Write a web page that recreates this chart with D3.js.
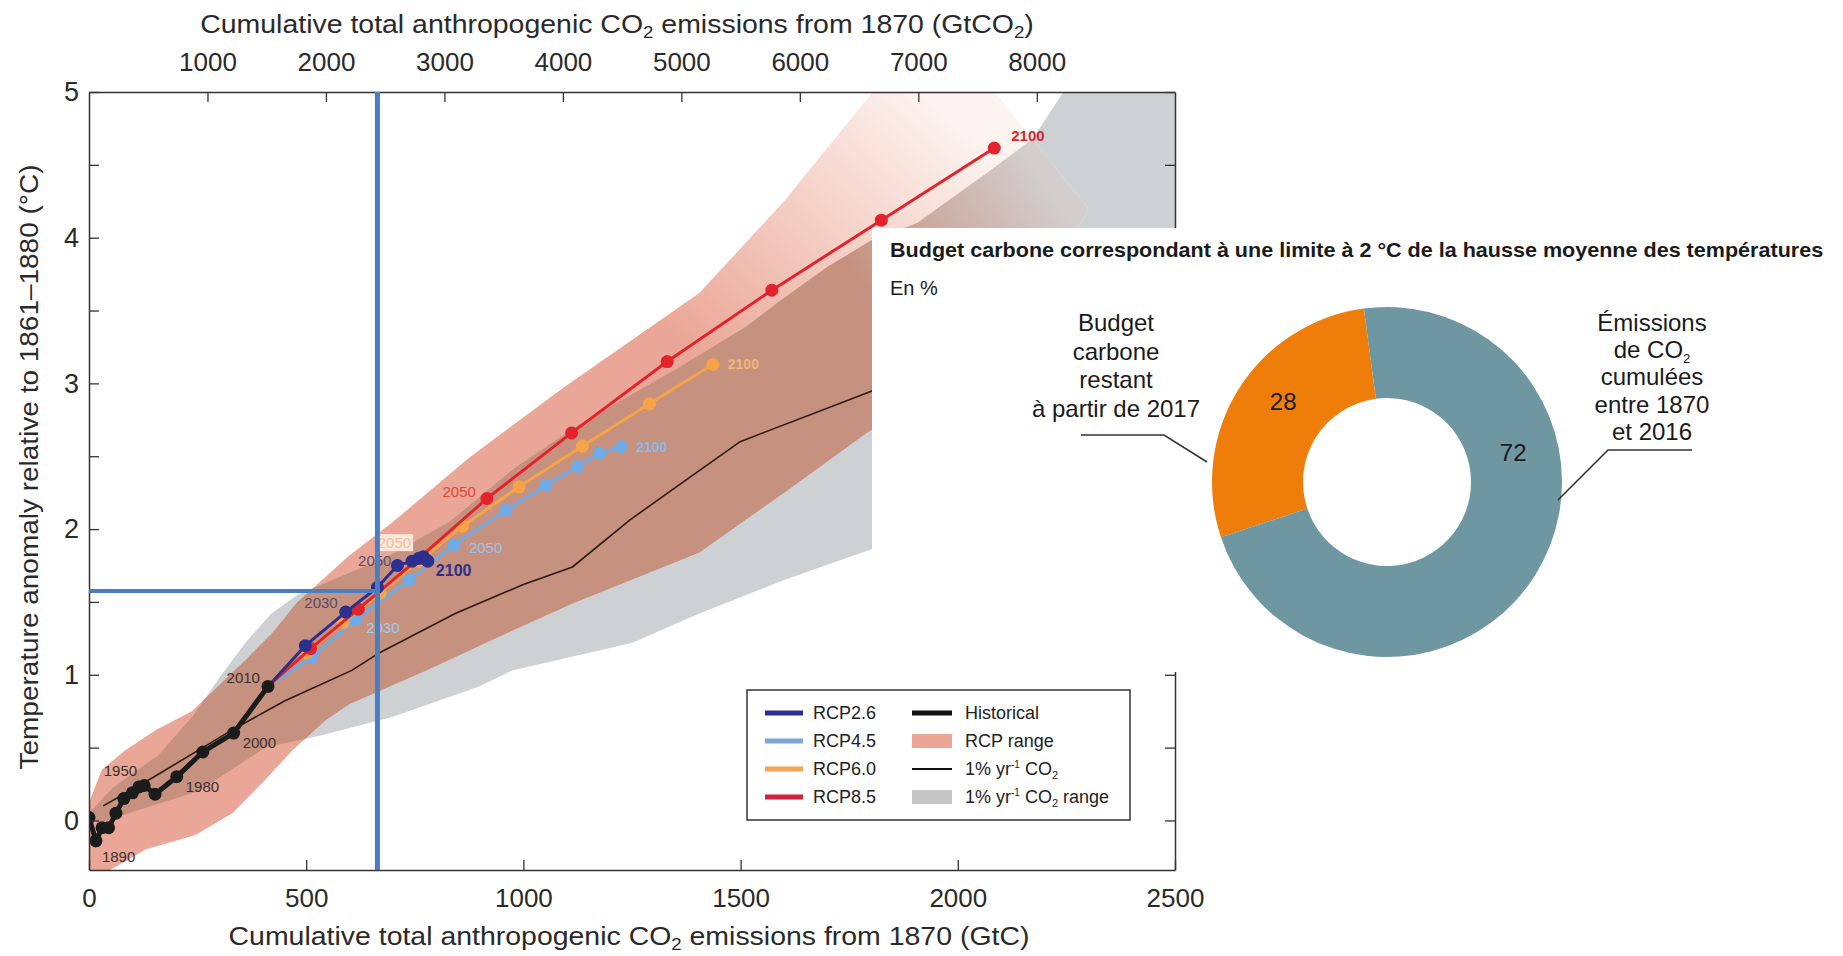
<!DOCTYPE html>
<html><head><meta charset="utf-8">
<script src="https://cdn.jsdelivr.net/npm/d3@7"></script>
<style>
html,body{margin:0;padding:0;background:#fff;}
svg{display:block;font-family:"Liberation Sans",Arial,Helvetica,sans-serif;}
</style></head><body>
<svg id="c" width="1843" height="956"></svg>
<script>
// ---------------- DATA ----------------
const xTicksGtC = [0, 500, 1000, 1500, 2000, 2500];
const xTicksGtCO2 = [1000, 2000, 3000, 4000, 5000, 6000, 7000, 8000];
const yTicksMajor = [0, 1, 2, 3, 4, 5];
const yTicksAll = [0, 0.5, 1, 1.5, 2, 2.5, 3, 3.5, 4, 4.5, 5];

// Historical (decadal means), cumulative GtC vs temperature anomaly
const histGtC  = [0, 16, 30, 45, 62, 80, 100, 115, 127, 152, 202, 262, 333, 412];
const histTemp = [0.02, -0.14, -0.05, -0.05, 0.05, 0.15, 0.19, 0.23, 0.24, 0.18, 0.30, 0.47, 0.60, 0.92];
const histYearLabels = [["1890", 1], ["1950", 8], ["1980", 10], ["2000", 12], ["2010", 13]];

// RCP scenarios 2010..2100 (decades)
const rcp26GtC  = [412, 498, 591, 664, 710, 744, 760, 770, 776, 780];
const rcp26Temp = [0.92, 1.20, 1.43, 1.60, 1.75, 1.78, 1.80, 1.81, 1.79, 1.78];
const rcp45GtC  = [412, 513, 615, 737, 840, 960, 1052, 1125, 1175, 1225];
const rcp45Temp = [0.92, 1.12, 1.38, 1.65, 1.89, 2.13, 2.30, 2.43, 2.52, 2.565];
const rcp60GtC  = [412, 500, 585, 670, 760, 860, 990, 1136, 1290, 1436];
const rcp60Temp = [0.92, 1.15, 1.36, 1.56, 1.78, 2.02, 2.29, 2.57, 2.86, 3.13];
const rcp85GtC  = [412, 510, 620, 760, 916, 1111, 1331, 1572, 1824, 2084];
const rcp85Temp = [0.92, 1.18, 1.45, 1.80, 2.21, 2.66, 3.15, 3.64, 4.12, 4.615];

// 1% yr-1 CO2 mean line
const pctGtC  = [33, 150, 329, 450, 605, 668, 843, 1000, 1113, 1244, 1352, 1499, 1804, 1950];
const pctTemp = [0.10, 0.30, 0.62, 0.82, 1.03, 1.15, 1.42, 1.62, 1.74, 2.06, 2.29, 2.60, 2.95, 3.12];

// RCP range (upper / lower edges)
const rcpUpper = [[0,0.12],[10,0.2],[30,0.35],[83,0.48],[153,0.62],[237,0.75],[314,0.97],[360,1.10],[420,1.28],[480,1.50],[600,1.82],[700,2.05],[875,2.49],[1092,2.97],[1405,3.62],[1600,4.25],[1804,5.0],[1950,5.5]];
const rcpLower = [[0,-0.4],[37,-0.36],[130,-0.2],[245,-0.1],[330,0.05],[406,0.28],[468,0.48],[545,0.69],[600,0.80],[776,1.03],[950,1.27],[1113,1.49],[1405,1.84],[1600,2.25],[1790,2.66],[2000,3.05],[2200,3.6],[2300,4.2]];

// 1% yr-1 CO2 range (upper / lower edges)
const pctUpper = [[0,0.05],[53,0.22],[160,0.45],[240,0.72],[300,0.98],[360,1.22],[420,1.42],[480,1.55],[560,1.65],[680,1.80],[830,2.05],[980,2.42],[1129,2.72],[1359,3.11],[1513,3.39],[1583,3.55],[1700,3.80],[1800,3.98],[1906,4.10],[2074,4.46],[2173,4.68],[2243,5.0],[2500,5.6]];
const pctLower = [[20,-0.02],[91,0.05],[252,0.20],[406,0.50],[529,0.58],[698,0.71],[898,0.92],[974,1.03],[1251,1.22],[1405,1.42],[1600,1.65],[1800,1.86],[2000,2.05],[2500,2.6]];

// Budget marker (2 °C budget reading)
const markerGtC = 664;
const markerTemp = 1.575;

// Donut
const budgetNames  = ["Budget carbone restant à partir de 2017", "Émissions de CO2 cumulées entre 1870 et 2016"];
const budgetValues = [28, 72];

// ---------------- DRAW ----------------
const svg = d3.select("#c");
const FONT = '"Liberation Sans",Arial,Helvetica,sans-serif';
const x = d3.scaleLinear().domain([0, 2500]).range([89, 1175]);
const xTop = d3.scaleLinear().domain([0, 2500 * 44 / 12]).range([89, 1175]);
const y = d3.scaleLinear().domain([-0.34, 5]).range([870, 92]);

const defs = svg.append("defs");
defs.append("clipPath").attr("id", "plotclip").append("rect")
  .attr("x", x(0)).attr("y", y(5)).attr("width", x(2500) - x(0)).attr("height", y(-0.34) - y(5));

const g1 = defs.append("linearGradient").attr("id", "salmonGrad").attr("gradientUnits", "userSpaceOnUse")
  .attr("x1", x(1350)).attr("y1", y(3.3)).attr("x2", x(1900)).attr("y2", y(5.1));
g1.append("stop").attr("offset", 0).attr("stop-color", "#eaa696");
g1.append("stop").attr("offset", 0.55).attr("stop-color", "#f5d2c8");
g1.append("stop").attr("offset", 1).attr("stop-color", "#fdf4f1");
const g2 = defs.append("linearGradient").attr("id", "brownGrad").attr("gradientUnits", "userSpaceOnUse")
  .attr("x1", x(1750)).attr("y1", y(3.8)).attr("x2", x(2150)).attr("y2", y(4.6));
g2.append("stop").attr("offset", 0).attr("stop-color", "#c6917f");
g2.append("stop").attr("offset", 1).attr("stop-color", "#d3cdcd");

const pts = (a) => a.map(d => [x(d[0]), y(d[1])]);
const poly = (up, lo) => "M" + pts(up).concat(pts(lo.slice().reverse())).map(p => p.join(",")).join("L") + "Z";

const pctPath = poly(pctUpper, pctLower);
const rcpPath = poly(rcpUpper, rcpLower);
defs.append("clipPath").attr("id", "grayclip").append("path").attr("d", pctPath);

const plot = svg.append("g").attr("clip-path", "url(#plotclip)");
plot.append("path").attr("d", pctPath).attr("fill", "#cdd1d4");
plot.append("path").attr("d", rcpPath).attr("fill", "url(#salmonGrad)");
plot.append("g").attr("clip-path", "url(#grayclip)")
  .append("path").attr("d", rcpPath).attr("fill", "url(#brownGrad)");

const line = d3.line().x(d => x(d[0])).y(d => y(d[1]));
const zip = (a, b) => a.map((v, i) => [v, b[i]]);

// 1% line
plot.append("path").attr("d", line(zip(pctGtC, pctTemp)))
  .attr("fill", "none").attr("stroke", "#2b1a14").attr("stroke-width", 1.6);

// scenarios
const series = [
  {k: "rcp45", d: zip(rcp45GtC, rcp45Temp), c: "#6fabe6"},
  {k: "rcp60", d: zip(rcp60GtC, rcp60Temp), c: "#f6a447"},
  {k: "rcp85", d: zip(rcp85GtC, rcp85Temp), c: "#e3232b"},
  {k: "rcp26", d: zip(rcp26GtC, rcp26Temp), c: "#2b2f8e"}
];
series.forEach(s => {
  const gs = plot.append("g");
  gs.append("path").attr("d", line(s.d)).attr("fill", "none").attr("stroke", s.c).attr("stroke-width", 3);
  gs.selectAll("circle").data(s.d.slice(1)).join("circle")
    .attr("cx", d => x(d[0])).attr("cy", d => y(d[1])).attr("r", 6.5).attr("fill", s.c);
});
const hist = zip(histGtC, histTemp);
plot.append("path").attr("d", line(hist)).attr("fill", "none").attr("stroke", "#1b1b1b").attr("stroke-width", 5);
plot.selectAll("circle.h").data(hist).join("circle").attr("class", "h")
  .attr("cx", d => x(d[0])).attr("cy", d => y(d[1])).attr("r", 6.5).attr("fill", "#1b1b1b");

// year labels
function yl(txt, d, dx, dy, col, anchor, weight, size, bg) {
  const t = svg.append("text").attr("x", x(d[0]) + dx).attr("y", y(d[1]) + dy)
    .attr("text-anchor", anchor).attr("font-size", size || 15).attr("font-weight", weight || "normal")
    .attr("fill", col).text(txt);
  if (bg) {
    const bb = t.node().getBBox();
    svg.insert("rect", () => t.node()).attr("x", bb.x - 2).attr("y", bb.y).attr("width", bb.width + 4)
      .attr("height", bb.height).attr("fill", bg);
  }
}
const histOff = {"1890": [6, 21, "start"], "1950": [-7, -9, "end"], "1980": [9, 15, "start"], "2000": [9, 15, "start"], "2010": [-8, -3, "end"]};
histYearLabels.forEach(([t, i]) => { const o = histOff[t]; yl(t, hist[i], o[0], o[1], "#3a3030", o[2]); });

yl("2100", zip(rcp85GtC, rcp85Temp)[9], 17, -7, "#d9262e", "start", "bold", 15);
yl("2050", zip(rcp85GtC, rcp85Temp)[4], -11, -1, "#e2453b", "end");
yl("2100", zip(rcp60GtC, rcp60Temp)[9], 15, 5, "#f5b57e", "start", "bold", 14);
yl("2050", zip(rcp60GtC, rcp60Temp)[4], -8, -13, "#f3c198", "end", "normal", 15, "#fbe7db");
yl("2100", zip(rcp45GtC, rcp45Temp)[9], 15, 5, "#8db9e6", "start", "bold", 14);
yl("2050", zip(rcp45GtC, rcp45Temp)[4], 15, 8, "#9dc3ea", "start");
yl("2030", zip(rcp45GtC, rcp45Temp)[2], 10, 14, "#a9c9ea", "start");
yl("2100", zip(rcp26GtC, rcp26Temp)[9], 8, 15, "#2b2f8e", "start", "bold", 16);
yl("2050", zip(rcp26GtC, rcp26Temp)[4], -6, 0, "#5a4d70", "end");
yl("2030", zip(rcp26GtC, rcp26Temp)[2], -8, -4, "#5a4d70", "end");

// axes
function styleAxis(g) {
  g.select(".domain").attr("stroke", "#333").attr("stroke-width", 1.5);
  g.selectAll(".tick line").attr("stroke", "#333").attr("stroke-width", 1.3);
  g.selectAll("text").attr("fill", "#2a2a2a").attr("font-family", FONT);
}
const fmt = d3.format("d");
svg.append("g").attr("transform", `translate(0,${y(-0.34)})`)
  .call(d3.axisBottom(x).tickValues(xTicksGtC).tickSize(-10).tickSizeOuter(0).tickPadding(19).tickFormat(fmt))
  .call(styleAxis).call(g => g.selectAll("text").attr("font-size", 26));
svg.append("g").attr("transform", `translate(0,${y(5)})`)
  .call(d3.axisTop(xTop).tickValues(xTicksGtCO2).tickSize(-10).tickSizeOuter(0).tickPadding(21).tickFormat(fmt))
  .call(styleAxis).call(g => g.selectAll("text").attr("font-size", 26));
svg.append("g").attr("transform", `translate(${x(0)},0)`)
  .call(d3.axisLeft(y).tickValues(yTicksAll).tickSize(-10).tickSizeOuter(0).tickPadding(10)
    .tickFormat(d => Number.isInteger(d) ? d : ""))
  .call(styleAxis).call(g => g.selectAll("text").attr("font-size", 27));
svg.append("g").attr("transform", `translate(${x(2500)},0)`)
  .call(d3.axisRight(y).tickValues(yTicksAll).tickSize(-10).tickSizeOuter(0).tickFormat(""))
  .call(styleAxis);

// axis titles with subscripts
function fitX(t, w, cx) {
  const bb = t.node().getBBox();
  const s = w / bb.width;
  t.attr("transform", `translate(${cx},0) scale(${s},1) translate(${-cx},0)`);
}
function co2Title(xc, yb, segs, w) {
  const t = svg.append("text").attr("x", xc).attr("y", yb).attr("text-anchor", "middle")
    .attr("font-size", 26).attr("fill", "#2a2a2a");
  segs.forEach(seg => {
    t.append("tspan").text(seg[0]).attr("font-size", seg[1] ? 17 : 26).attr("dy", seg[1] ? 5 : (seg[2] || 0));
  });
  fitX(t, w, xc);
  return t;
}
co2Title(617, 33, [["Cumulative total anthropogenic CO"], ["2", 1], [" emissions from 1870 (GtCO", 0, -5], ["2", 1], [")", 0, -5]], 834);
co2Title(629, 945, [["Cumulative total anthropogenic CO"], ["2", 1], [" emissions from 1870 (GtC)", 0, -5]], 801);
const yt = svg.append("text").attr("text-anchor", "middle")
  .attr("font-size", 26).attr("fill", "#2a2a2a").text("Temperature anomaly relative to 1861–1880 (°C)");
{
  const w = yt.node().getBBox().width;
  yt.attr("transform", `translate(38,467) rotate(-90) scale(${605 / w},1)`);
}

// budget marker lines
svg.append("line").attr("x1", x(markerGtC)).attr("x2", x(markerGtC)).attr("y1", y(5)).attr("y2", y(-0.34))
  .attr("stroke", "#4a7ec2").attr("stroke-width", 5);
svg.append("line").attr("x1", x(0)).attr("x2", x(markerGtC) + 2.5).attr("y1", y(markerTemp)).attr("y2", y(markerTemp))
  .attr("stroke", "#4a7ec2").attr("stroke-width", 4);

// legend
const lg = svg.append("g");
lg.append("rect").attr("x", 747).attr("y", 690).attr("width", 383).attr("height", 130)
  .attr("fill", "#fff").attr("stroke", "#333").attr("stroke-width", 1.5);
const legRows = [713, 741, 769, 797];
const leg1 = [["RCP2.6", "#2b2f8e"], ["RCP4.5", "#7da6d6"], ["RCP6.0", "#f1a35a"], ["RCP8.5", "#d3203a"]];
leg1.forEach((d, i) => {
  lg.append("line").attr("x1", 765).attr("x2", 803).attr("y1", legRows[i]).attr("y2", legRows[i])
    .attr("stroke", d[1]).attr("stroke-width", 5);
  lg.append("text").attr("x", 813).attr("y", legRows[i] + 6).attr("font-size", 18).attr("fill", "#222").text(d[0]);
});
lg.append("line").attr("x1", 912).attr("x2", 952).attr("y1", legRows[0]).attr("y2", legRows[0]).attr("stroke", "#111").attr("stroke-width", 5);
lg.append("rect").attr("x", 912).attr("y", legRows[1] - 7).attr("width", 40).attr("height", 14).attr("fill", "#eca696");
lg.append("line").attr("x1", 912).attr("x2", 952).attr("y1", legRows[2]).attr("y2", legRows[2]).attr("stroke", "#111").attr("stroke-width", 2);
lg.append("rect").attr("x", 912).attr("y", legRows[3] - 7).attr("width", 40).attr("height", 14).attr("fill", "#c6c6c6");
const lt = (yy) => lg.append("text").attr("x", 965).attr("y", yy + 6).attr("font-size", 18).attr("fill", "#222");
lt(legRows[0]).text("Historical");
lt(legRows[1]).text("RCP range");
function pctLabel(t, tail) {
  t.append("tspan").text("1% yr");
  t.append("tspan").text("-1").attr("font-size", 10).attr("dy", -7);
  t.append("tspan").text(" CO").attr("dy", 7);
  t.append("tspan").text("2").attr("font-size", 11).attr("dy", 4);
  if (tail) t.append("tspan").text(tail).attr("dy", -4);
}
pctLabel(lt(legRows[2]));
pctLabel(lt(legRows[3]), " range");

// ---------------- donut panel ----------------
svg.append("rect").attr("x", 872).attr("y", 228).attr("width", 1843 - 872).attr("height", 672 - 228).attr("fill", "#fff");
const title = svg.append("text").attr("x", 890).attr("y", 257).attr("font-size", 20).attr("font-weight", "bold")
  .attr("fill", "#1a1a1a").text("Budget carbone correspondant à une limite à 2 °C de la hausse moyenne des températures");
fitX(title, 934, 890);
svg.append("text").attr("x", 890).attr("y", 295).attr("font-size", 20).attr("fill", "#1a1a1a").text("En %");

const cx = 1387, cy = 482;
const pie = d3.pie().sort(null).startAngle(-108.4 * Math.PI / 180).endAngle((360 - 108.4) * Math.PI / 180);
const arcs = pie(budgetValues);
const arc = d3.arc().innerRadius(84).outerRadius(175);
const dg = svg.append("g").attr("transform", `translate(${cx},${cy})`);
const donutColors = ["#ef7d0a", "#6e97a2"];
dg.selectAll("path").data(arcs).join("path").attr("d", arc).attr("fill", (d, i) => donutColors[i]);
const labelAngle = [null, 77 * Math.PI / 180];
arcs.forEach((a, i) => {
  const p = labelAngle[i] == null ? arc.centroid(a) : arc.centroid({startAngle: labelAngle[i], endAngle: labelAngle[i]});
  dg.append("text").attr("x", p[0] + (i === 0 ? 6 : 0)).attr("y", p[1] + (i === 0 ? -3 : 8)).attr("text-anchor", "middle").attr("font-size", 24)
    .attr("fill", "#1a1a1a").text(budgetValues[i]);
});

const leftLines = ["Budget", "carbone", "restant", "à partir de 2017"];
leftLines.forEach((s, i) => svg.append("text").attr("x", 1116).attr("y", 331 + i * 28.7).attr("text-anchor", "middle")
  .attr("font-size", 24).attr("fill", "#1a1a1a").text(s));
const rightLines = ["Émissions", "de CO₂", "cumulées", "entre 1870", "et 2016"];
rightLines.forEach((s, i) => {
  const t = svg.append("text").attr("x", 1652).attr("y", 331 + i * 27.2).attr("text-anchor", "middle")
    .attr("font-size", 24).attr("fill", "#1a1a1a");
  if (s === "de CO₂") {
    t.append("tspan").text("de CO");
    t.append("tspan").text("2").attr("font-size", 13).attr("dy", 5);
  } else t.text(s);
});
svg.append("polyline").attr("points", "1081,435 1164,435 1207,462").attr("fill", "none").attr("stroke", "#333").attr("stroke-width", 1.6);
svg.append("polyline").attr("points", "1558,500 1608,450 1692,450").attr("fill", "none").attr("stroke", "#333").attr("stroke-width", 1.6);
</script>
</body></html>
